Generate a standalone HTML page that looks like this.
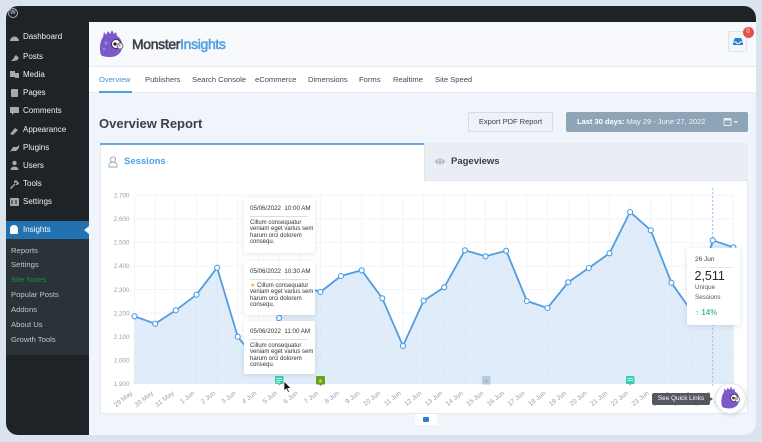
<!DOCTYPE html>
<html><head><meta charset="utf-8">
<style>
*{margin:0;padding:0;box-sizing:border-box}
html,body{width:762px;height:442px;overflow:hidden;background:#d9e4ef;font-family:"Liberation Sans",Arial,sans-serif}
.screen{position:absolute;left:6px;top:6px;width:750px;height:429px;border-radius:12px;overflow:hidden;background:#f0f4fb}
.inner{position:absolute;left:-6px;top:-6px;width:762px;height:442px}
.a{position:absolute}
.mi{position:absolute;left:23px;height:10px;line-height:10px;font-size:8px;color:#f0f0f1;white-space:nowrap}
.si{position:absolute;left:11px;height:10px;line-height:10px;font-size:7.7px;color:#c3c4c7;white-space:nowrap}
.nav{position:absolute;top:75px;height:10px;line-height:10px;font-size:7.6px;color:#444b55;white-space:nowrap}
.card{position:absolute;left:244px;width:71px;background:#fff;border-radius:2px;box-shadow:0 1px 5px rgba(40,60,90,0.14)}
.card .h{position:absolute;top:7px;left:6px;font-size:6.2px;line-height:7px;color:#333;white-space:nowrap}
.card .l{position:absolute;top:18px;left:6px;width:58px;height:1px;background:#cfe1f4}
.card .b{position:absolute;top:22px;left:6px;font-size:6px;line-height:6.4px;color:#333;white-space:nowrap}
</style></head><body>
<div class="screen"><div class="inner">

<div class="a" style="left:0;top:0;width:762px;height:22px;background:#1d2327"></div>
<div class="a" style="left:8px;top:8px;width:10px;height:10px;border-radius:50%;border:1.3px solid #a7aaad;color:#a7aaad;font-size:6px;line-height:8px;text-align:center;font-weight:bold">W</div>

<div class="a" style="left:0;top:22px;width:89px;height:420px;background:#1d2327"></div>
<div class="a" style="left:0;top:239px;width:89px;height:116px;background:#2c3338"></div>
<div class="a" style="left:0;top:221px;width:89px;height:18px;background:#2271b1"></div>
<div class="a" style="left:84px;top:226px;width:0;height:0;border-top:4.5px solid transparent;border-bottom:4.5px solid transparent;border-right:5px solid #f0f4fb"></div>

<svg class="a" style="left:0;top:0" width="90" height="240">
 <g fill="#a7aaad">
  <path d="M10 41 a4.5 4.5 0 0 1 9 0 z"/>
  <path d="M11 61 l4 -4 l3 3 l-4 1 z M14 57 l2 -2 l3 3 l-2 2z"/>
  <rect x="10" y="71" width="5" height="6"/><rect x="15" y="73" width="4" height="5"/>
  <rect x="11" y="89" width="7" height="8" rx="1"/>
  <path d="M10 107 h9 v6 h-5 l-2 2 v-2 h-2z"/>
  <path d="M10 134 l5 -6 l3 2 l-5 5z"/>
  <path d="M10 152 l3 -5 h4 l2 -2 v3 l-3 3 h-4z"/>
  <circle cx="14.5" cy="163" r="2.2"/><path d="M10.5 170 a4 3.5 0 0 1 8 0z"/>
  <path d="M10 188 l6 -6 l1 1 l-6 6z M16 180 a2.5 2.5 0 1 0 3 3z"/>
  <rect x="10" y="198" width="9" height="8" rx="1"/>
 </g>
 <g fill="#fff"><circle cx="14" cy="229" r="4"/><rect x="10" y="230" width="8" height="4" rx="1"/></g>
 <g fill="#1d2327"><rect x="11.5" y="200" width="1" height="4"/><rect x="15.5" y="200" width="1" height="4"/></g>
</svg>

<div class="mi" style="top:32px">Dashboard</div>
<div class="mi" style="top:52px">Posts</div>
<div class="mi" style="top:70px">Media</div>
<div class="mi" style="top:88px">Pages</div>
<div class="mi" style="top:106px">Comments</div>
<div class="mi" style="top:125px">Appearance</div>
<div class="mi" style="top:143px">Plugins</div>
<div class="mi" style="top:161px">Users</div>
<div class="mi" style="top:179px">Tools</div>
<div class="mi" style="top:197px">Settings</div>
<div class="mi" style="top:225px;color:#fff">Insights</div>
<div class="si" style="top:246px">Reports</div>
<div class="si" style="top:260px">Settings</div>
<div class="si" style="top:275px;color:#1f8c3b">Site Notes</div>
<div class="si" style="top:290px">Popular Posts</div>
<div class="si" style="top:305px">Addons</div>
<div class="si" style="top:320px">About Us</div>
<div class="si" style="top:335px">Growth Tools</div>

<div class="a" style="left:89px;top:22px;width:673px;height:45px;background:#f7f9fd;border-bottom:1px solid #e3eaf3"></div>
<svg class="a" style="left:97px;top:29px" width="30" height="30" viewBox="0 0 30 30">
 <path d="M4 26 C2 20 3 12 6 8 L7 3 L9 6 L11 2 L13 5 L15 1 L17 5 L19 3 L20 7 C24 9 26 14 25 19 C24 25 19 28 13 28 C8 28 5 27 4 26Z" fill="#7b59c9"/>
 <circle cx="9" cy="14" r="1.6" fill="#9d82e0"/><circle cx="7" cy="20" r="1.3" fill="#9d82e0"/>
 <circle cx="19" cy="15" r="4.5" fill="#fff" stroke="#3a3050" stroke-width="1"/>
 <circle cx="18" cy="15" r="1.6" fill="#222"/>
 <circle cx="23" cy="17" r="3" fill="#e9eef7" stroke="#556" stroke-width="0.8"/>
 <circle cx="22.5" cy="16.5" r="1" fill="#e25b5b"/>
</svg>
<div class="a" style="left:132px;top:36px;font-size:14px;letter-spacing:-0.35px;line-height:16px;-webkit-text-stroke:0.55px;white-space:nowrap"><span style="color:#3a3f4a;-webkit-text-stroke-color:#3a3f4a">Monster</span><span style="color:#509fe2;-webkit-text-stroke-color:#509fe2">Insights</span></div>
<div class="a" style="left:728px;top:31px;width:19px;height:21px;background:#f3f6fa;border:1px solid #dde4ec;border-radius:2px"></div>
<svg class="a" style="left:732px;top:37px" width="12" height="10"><path d="M1 5 L3 1 H9 L11 5 V8 H1Z" fill="#2f7fd0"/><path d="M1 5 H4 L5 6.5 H7 L8 5 H11" stroke="#fff" stroke-width="0.9" fill="none"/></svg>
<div class="a" style="left:742.5px;top:27px;width:11px;height:11px;border-radius:50%;background:#e4504a;color:#fff;font-size:6px;line-height:11px;text-align:center">0</div>

<div class="a" style="left:89px;top:67px;width:673px;height:26px;background:#fff;border-bottom:1px solid #e3eaf3"></div>
<div class="nav" style="left:99px;color:#3f93dc">Overview</div>
<div class="a" style="left:99px;top:91px;width:33px;height:2px;background:#509fe2"></div>
<div class="nav" style="left:145px">Publishers</div>
<div class="nav" style="left:192px">Search Console</div>
<div class="nav" style="left:255px">eCommerce</div>
<div class="nav" style="left:308px">Dimensions</div>
<div class="nav" style="left:359px">Forms</div>
<div class="nav" style="left:393px">Realtime</div>
<div class="nav" style="left:435px">Site Speed</div>

<div class="a" style="left:99px;top:116px;font-size:13px;line-height:16px;font-weight:bold;color:#393f4c;white-space:nowrap">Overview Report</div>
<div class="a" style="left:468px;top:112px;width:85px;height:20px;background:#eef2f7;border:1px solid #d3dde8;border-radius:2px;font-size:7.5px;line-height:18px;text-align:center;color:#393f4c">Export PDF Report</div>
<div class="a" style="left:566px;top:112px;width:182px;height:20px;background:#8ea5b8;border-radius:2px"></div>
<div class="a" style="left:577px;top:117px;font-size:7.5px;line-height:10px;color:#f3f6fa;white-space:nowrap"><b style="color:#fff">Last 30 days:</b> May 29 - June 27, 2022</div>
<svg class="a" style="left:723px;top:117px" width="16" height="10"><rect x="1" y="1.5" width="7" height="7" rx="1" fill="none" stroke="#e6edf3" stroke-width="1"/><rect x="1" y="1.5" width="7" height="2" fill="#e6edf3"/><path d="M11 4 h4 l-2 2.5z" fill="#e6edf3"/></svg>

<div class="a" style="left:100px;top:143px;width:648px;height:271px;background:#fff;border:1px solid #e3e9f1"></div>
<div class="a" style="left:100px;top:143px;width:324px;height:2px;background:#6aa9e6"></div>
<div class="a" style="left:424px;top:143px;width:324px;height:38px;background:#e9eef4;border-left:1px solid #dde4ec;border-bottom:1px solid #dde4ec"></div>
<svg class="a" style="left:108px;top:156px" width="10" height="12"><circle cx="5" cy="3.5" r="2.6" fill="none" stroke="#9aa3ad" stroke-width="0.9"/><path d="M1 11 V9 a4 3 0 0 1 8 0 V11Z" fill="none" stroke="#9aa3ad" stroke-width="0.9"/></svg>
<div class="a" style="left:124px;top:156px;font-size:9.5px;line-height:12px;font-weight:bold;color:#509fe2">Sessions</div>
<svg class="a" style="left:434px;top:157px" width="12" height="9"><path d="M0.5 4.5 Q6 -1.5 11.5 4.5 Q6 10.5 0.5 4.5Z" fill="#b4bcc6"/><circle cx="6" cy="4.5" r="2" fill="#e9eef4"/><circle cx="6" cy="4.5" r="1.1" fill="#8d96a1"/></svg>
<div class="a" style="left:451px;top:156px;font-size:9.5px;line-height:12px;font-weight:bold;color:#393f4c">Pageviews</div>

<svg class="a" style="left:0;top:0" width="762" height="442" font-family="Liberation Sans, Arial, sans-serif">
 <g stroke="#eef3f9" stroke-width="0.8">
  <line x1="134.5" y1="195.2" x2="733.35" y2="195.2"/><line x1="134.5" y1="218.8" x2="733.35" y2="218.8"/>
  <line x1="134.5" y1="242.4" x2="733.35" y2="242.4"/><line x1="134.5" y1="266" x2="733.35" y2="266"/>
  <line x1="134.5" y1="289.6" x2="733.35" y2="289.6"/><line x1="134.5" y1="313.2" x2="733.35" y2="313.2"/>
  <line x1="134.5" y1="336.8" x2="733.35" y2="336.8"/><line x1="134.5" y1="360.4" x2="733.35" y2="360.4"/>
 </g>
 <g id="vg" stroke="#eef3f9" stroke-width="0.8"></g>
 <path d="M134.5,384 L134.5,316.3 155.15,323.7 175.8,310.3 196.45,294.7 217.1,267.7 237.75,336.7 258.4,362 279.05,318 299.7,285 320.35,292 341,276 361.65,270.3 382.3,298.3 402.95,346 423.6,300.7 444.25,287.3 464.9,250.3 485.55,256.3 506.2,250.7 526.85,301 547.5,308 568.15,282.3 588.8,268 609.45,253.3 630.1,212 650.75,230.3 671.4,282.7 692.05,312 712.7,240.3 733.35,247.3 L733.35,384Z" fill="#ddeaf8" opacity="0.92"/>
 <g id="vg2" stroke="#cfe0f3" stroke-width="0.6" stroke-dasharray="1.5,1.5"></g>
 <line x1="712.7" y1="188" x2="712.7" y2="386" stroke="#8fbdea" stroke-width="0.9" stroke-dasharray="2,2"/>
 <polyline points="134.5,316.3 155.15,323.7 175.8,310.3 196.45,294.7 217.1,267.7 237.75,336.7 258.4,362 279.05,318 299.7,285 320.35,292 341,276 361.65,270.3 382.3,298.3 402.95,346 423.6,300.7 444.25,287.3 464.9,250.3 485.55,256.3 506.2,250.7 526.85,301 547.5,308 568.15,282.3 588.8,268 609.45,253.3 630.1,212 650.75,230.3 671.4,282.7 692.05,312 712.7,240.3 733.35,247.3" fill="none" stroke="#519de3" stroke-width="1.8" stroke-linejoin="round"/>
 <g id="pts" fill="#fff" stroke="#519de3" stroke-width="1.1"></g>
 <g font-size="6.3" fill="#9aa0a8" text-anchor="end">
  <text x="129.5" y="197.4">2,700</text><text x="129.5" y="221">2,600</text><text x="129.5" y="244.6">2,500</text>
  <text x="129.5" y="268.2">2,400</text><text x="129.5" y="291.8">2,300</text><text x="129.5" y="315.4">2,200</text>
  <text x="129.5" y="339">2,100</text><text x="129.5" y="362.6">2,000</text><text x="129.5" y="386.2">1,900</text>
 </g>
 <g id="xl" font-size="6.6" fill="#9aa0a8" text-anchor="end"></g>
 <rect x="275" y="376" width="8.5" height="8" rx="1" fill="#35ceb2"/><path d="M278 384 h2.5 l-1.25 1.5z" fill="#35ceb2"/>
 <g stroke="#fff" stroke-width="0.8"><line x1="276.5" y1="378.5" x2="282" y2="378.5"/><line x1="276.5" y1="380.5" x2="282" y2="380.5"/><line x1="276.5" y1="382.3" x2="280" y2="382.3"/></g>
 <rect x="316" y="376" width="9" height="8.5" rx="1" fill="#63a322"/><path d="M319 384.5 h3 l-1.5 1.5z" fill="#63a322"/>
 <text x="320.5" y="383" font-size="6" fill="#f7d23a" text-anchor="middle">★</text>
 <rect x="482" y="376" width="8.5" height="8.5" rx="1" fill="#abcdf0"/>
 <text x="486.3" y="383" font-size="6" fill="#f0a830" text-anchor="middle">★</text>
 <rect x="626" y="376" width="8.5" height="8" rx="1" fill="#35ceb2"/><path d="M629 384 h2.5 l-1.25 1.5z" fill="#35ceb2"/>
 <g stroke="#fff" stroke-width="0.8"><line x1="627.5" y1="378.5" x2="633" y2="378.5"/><line x1="627.5" y1="380.5" x2="633" y2="380.5"/></g>
 <path d="M284 381 L284 391 L286.3 388.8 L288 392.5 L289.4 391.8 L287.8 388.3 L291 388.2Z" fill="#111" stroke="#fff" stroke-width="0.7"/>
</svg>

<div class="card" style="top:198px;height:55px"><div class="h">05/06/2022&nbsp;&nbsp;10:00 AM</div><div class="l"></div><div class="b">Cillum consequatur<br>veniam eget varius sem<br>harum orci dolorem<br>consequ.</div></div>
<div class="card" style="top:261px;height:54px"><div class="h">05/06/2022&nbsp;&nbsp;10:30 AM</div><div class="l"></div><div class="b"><span style="color:#f3b33d">★</span> Cillum consequatur<br>veniam eget varius sem<br>harum orci dolorem<br>consequ.</div></div>
<div class="card" style="top:321px;height:53px"><div class="h">05/06/2022&nbsp;&nbsp;11:00 AM</div><div class="l"></div><div class="b">Cillum consequatur<br>veniam eget varius sem<br>harum orci dolorem<br>consequ.</div></div>

<div class="a" style="left:687px;top:248px;width:53px;height:77px;background:#fff;border-radius:2px;box-shadow:0 1px 6px rgba(40,60,90,0.15)">
 <div class="a" style="left:8px;top:8px;font-size:6.5px;line-height:8px;color:#444">26 Jun</div>
 <div class="a" style="left:8px;top:19px;width:37px;height:1px;background:#e3e9f0"></div>
 <div class="a" style="left:7.5px;top:21px;font-size:12.5px;line-height:14px;color:#23282d">2,511</div>
 <div class="a" style="left:8px;top:36px;font-size:6.3px;line-height:8px;color:#555">Unique</div>
 <div class="a" style="left:8px;top:46px;font-size:6.3px;line-height:8px;color:#555">Sessions</div>
 <div class="a" style="left:8px;top:60px;font-size:8px;line-height:10px;font-weight:bold;color:#4cc3a0">↑ 14%</div>
</div>

<div class="a" style="left:652px;top:393px;width:58px;height:12px;background:#54595f;border-radius:2px;color:#fff;font-size:6.4px;line-height:12px;text-align:center;white-space:nowrap">See Quick Links</div>
<div class="a" style="left:710px;top:396.5px;width:0;height:0;border-top:2.5px solid transparent;border-bottom:2.5px solid transparent;border-left:3px solid #54595f"></div>
<div class="a" style="left:715px;top:383px;width:31px;height:31px;border-radius:50%;background:#fff;border:1px solid #e4e7ea;box-shadow:0 1px 4px rgba(0,0,0,0.12)"></div>
<svg class="a" style="left:719px;top:386px" width="24" height="24" viewBox="0 0 30 30">
 <path d="M4 26 C2 20 3 12 6 8 L7 3 L9 6 L11 2 L13 5 L15 1 L17 5 L19 3 L20 7 C24 9 26 14 25 19 C24 25 19 28 13 28 C8 28 5 27 4 26Z" fill="#7b59c9"/>
 <circle cx="19" cy="15" r="4.5" fill="#fff" stroke="#3a3050" stroke-width="1"/><circle cx="18" cy="15" r="1.6" fill="#222"/>
 <circle cx="23" cy="17" r="3" fill="#e9eef7" stroke="#556" stroke-width="0.8"/><circle cx="22.5" cy="16.5" r="1" fill="#e25b5b"/>
</svg>

<div class="a" style="left:415px;top:414px;width:22px;height:11px;background:#fff"></div>
<div class="a" style="left:423px;top:416.5px;width:6px;height:5px;background:#2f7fd0;border-radius:1px"></div>

</div></div>
<script>
(function(){
 var ns="http://www.w3.org/2000/svg";
 var ys=[316.3,323.7,310.3,294.7,267.7,336.7,362,318,285,292,276,270.3,298.3,346,300.7,287.3,250.3,256.3,250.7,301,308,282.3,268,253.3,212,230.3,282.7,312,240.3,247.3];
 var labels=["29 May","30 May","31 May"];
 for(var d=1;d<=27;d++)labels.push(d+" Jun");
 var vg=document.getElementById("vg"),vg2=document.getElementById("vg2"),pts=document.getElementById("pts"),xl=document.getElementById("xl");
 for(var i=0;i<30;i++){
  var x=134.5+20.65*i;
  var l=document.createElementNS(ns,"line");l.setAttribute("x1",x);l.setAttribute("x2",x);l.setAttribute("y1",195.2);l.setAttribute("y2",384);vg.appendChild(l);
  var l2=document.createElementNS(ns,"line");l2.setAttribute("x1",x);l2.setAttribute("x2",x);l2.setAttribute("y1",ys[i]+3);l2.setAttribute("y2",384);vg2.appendChild(l2);
  var c=document.createElementNS(ns,"circle");c.setAttribute("cx",x);c.setAttribute("cy",ys[i]);c.setAttribute("r",2.5);pts.appendChild(c);
  var t=document.createElementNS(ns,"text");var tx=x-1.5,ty=394;t.setAttribute("x",tx);t.setAttribute("y",ty);t.setAttribute("transform","rotate(-38 "+tx+" "+ty+")");t.textContent=labels[i];xl.appendChild(t);
 }
})();
</script>
</body></html>
